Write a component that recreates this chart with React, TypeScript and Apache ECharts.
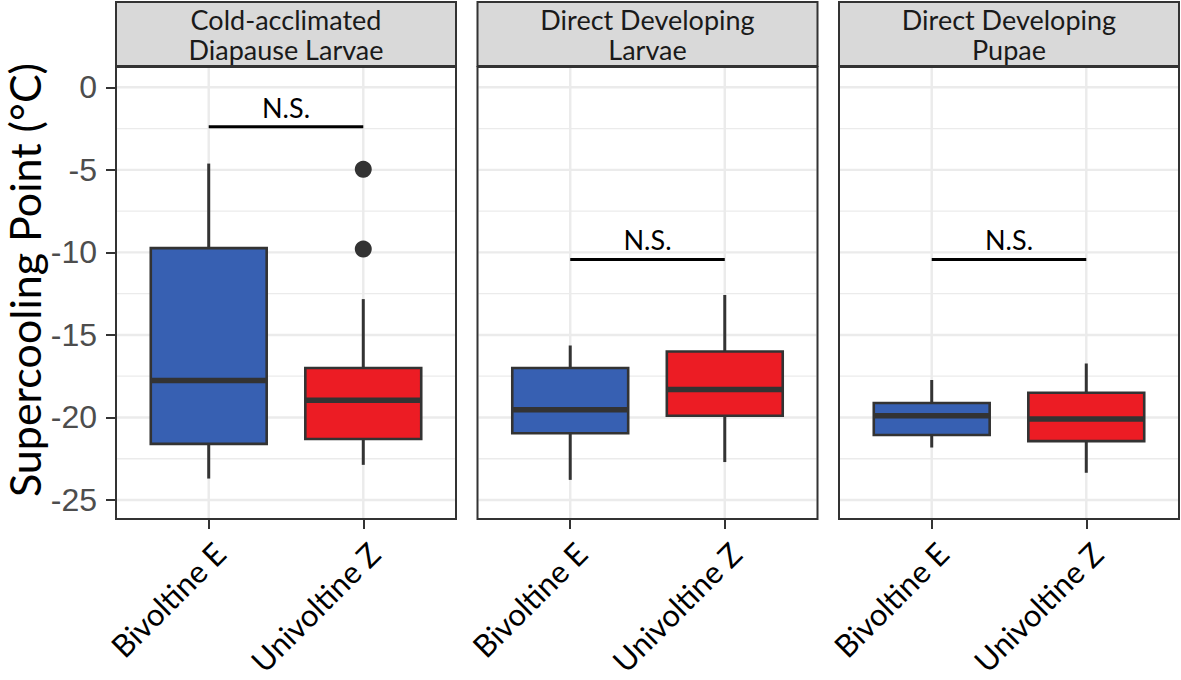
import React, { useEffect, useRef } from "react";
import * as echarts from "echarts";

// ---- data ----
const facetTitles = ["Cold-acclimated\nDiapause Larvae", "Direct Developing\nLarvae", "Direct Developing\nPupae"];
const groups = ["Bivoltine E", "Univoltine Z"];
const groupPos = [1, 2];
// [lower whisker, Q1, median, Q3, upper whisker]
const coldBivoltine = [-23.7, -21.6, -17.76, -9.74, -4.62];
const coldUnivoltine = [-22.87, -21.3, -18.96, -17.0, -12.83];
const larvaeBivoltine = [-23.78, -20.96, -19.53, -17.0, -15.64];
const larvaeUnivoltine = [-22.7, -19.9, -18.3, -16.0, -12.58];
const pupaeBivoltine = [-21.82, -21.06, -19.9, -19.12, -17.73];
const pupaeUnivoltine = [-23.35, -21.43, -20.1, -18.5, -16.73];
const coldOutliers = [[2, -4.97], [2, -9.8]];
const nsLevels = [-2.39, -10.43, -10.43];
const nsLabel = "N.S.";
const yMajor = [-25, -20, -15, -10, -5, 0];
const yMinor = [-22.5, -17.5, -12.5, -7.5, -2.5];
const yMin = -26.15;
const yMax = 1.23;
const xMin = 0.4;
const xMax = 2.6;
const groupColors = ["#3760b2", "#ec1c24"];

const panels = [
  { boxes: [coldBivoltine, coldUnivoltine], outliers: coldOutliers },
  { boxes: [larvaeBivoltine, larvaeUnivoltine], outliers: [] as number[][] },
  { boxes: [pupaeBivoltine, pupaeUnivoltine], outliers: [] as number[][] },
];

// ---- layout ----
const PANEL_LEFT = [116, 477.5, 839];
const PANEL_W = 340;
const PANEL_TOP = 67;
const PANEL_H = 452;
const STRIP_TOP = 2;
const STRIP_H = 64;
const DARK = "#333333";
const GRIDC = "#ebebeb";

function hLineSeries(i: number, values: number[], width: number) {
  return {
    type: "custom",
    xAxisIndex: i,
    yAxisIndex: i,
    silent: true,
    z: 1,
    clip: false,
    data: values.map((v) => [1.5, v]),
    renderItem: (params: any, api: any) => {
      const cs = params.coordSys;
      const y = api.coord([api.value(0), api.value(1)])[1];
      return {
        type: "line",
        shape: { x1: cs.x + 1, y1: y, x2: cs.x + cs.width - 1, y2: y },
        style: { stroke: GRIDC, lineWidth: width },
      };
    },
  };
}

function vLineSeries(i: number, values: number[], width: number) {
  return {
    type: "custom",
    xAxisIndex: i,
    yAxisIndex: i,
    silent: true,
    z: 1,
    clip: false,
    data: values.map((v) => [v, -12]),
    renderItem: (params: any, api: any) => {
      const cs = params.coordSys;
      const x = api.coord([api.value(0), api.value(1)])[0];
      return {
        type: "line",
        shape: { x1: x, y1: cs.y + 1, x2: x, y2: cs.y + cs.height - 1 },
        style: { stroke: GRIDC, lineWidth: width },
      };
    },
  };
}

export default function App() {
  const ref = useRef<HTMLDivElement>(null);
  useEffect(() => {
    if (!ref.current) return;
    const chart = echarts.init(ref.current, undefined, { renderer: "svg" });

    const grid: any[] = [];
    const xAxis: any[] = [];
    const yAxis: any[] = [];
    const series: any[] = [];
    const graphic: any[] = [];

    panels.forEach((p, i) => {
      grid.push({
        left: PANEL_LEFT[i],
        top: PANEL_TOP,
        width: PANEL_W,
        height: PANEL_H,
        show: false,
        containLabel: false,
        outerBoundsMode: "none",
      });
      xAxis.push({
        type: "value",
        gridIndex: i,
        position: "bottom",
        min: xMin,
        max: xMax,
        axisLine: { show: false, onZero: false },
        splitLine: { show: false },
        axisTick: { show: true, customValues: groupPos, length: 10, lineStyle: { color: DARK, width: 2 } },
        axisLabel: {
          show: true,
          customValues: groupPos,
          formatter: (v: number) => groups[Math.round(v) - 1] ?? "",
          rotate: 45,
          align: "right",
          verticalAlign: "top",
          margin: 18,
          color: "#000",
          fontFamily: "Lato",
          fontSize: 31,
        },
      });
      yAxis.push({
        type: "value",
        gridIndex: i,
        position: "left",
        min: yMin,
        max: yMax,
        axisLine: { show: false, onZero: false },
        splitLine: { show: false },
        axisTick: i === 0 ? { show: true, customValues: yMajor, length: 10, lineStyle: { color: DARK, width: 2 } } : { show: false },
        axisLabel: i === 0
          ? { show: true, customValues: yMajor, margin: 19, color: "#4d4d4d", fontFamily: "Liberation Sans", fontSize: 32 }
          : { show: false },
      });

      series.push(hLineSeries(i, yMinor, 1.3));
      series.push(hLineSeries(i, yMajor, 2.4));
      series.push(vLineSeries(i, groupPos, 2.4));

      series.push({
        type: "custom",
        xAxisIndex: i,
        yAxisIndex: i,
        z: 3,
        encode: { x: 0, y: [1, 2, 3, 4, 5] },
        data: p.boxes.map((b, g) => [groupPos[g], ...b, g]),
        renderItem: (params: any, api: any) => {
          const x = api.value(0);
          const lo = api.coord([x, api.value(1)]);
          const q1 = api.coord([x, api.value(2)]);
          const md = api.coord([x, api.value(3)]);
          const q3 = api.coord([x, api.value(4)]);
          const hi = api.coord([x, api.value(5)]);
          const color = groupColors[api.value(6)];
          const hw = api.size([0.75, 0])[0] / 2;
          const cx = lo[0];
          return {
            type: "group",
            children: [
              { type: "line", shape: { x1: cx, y1: q3[1], x2: cx, y2: hi[1] }, style: { stroke: DARK, lineWidth: 3 } },
              { type: "line", shape: { x1: cx, y1: q1[1], x2: cx, y2: lo[1] }, style: { stroke: DARK, lineWidth: 3 } },
              { type: "rect", shape: { x: cx - hw, y: q3[1], width: hw * 2, height: q1[1] - q3[1] }, style: { fill: color, stroke: DARK, lineWidth: 2.6 } },
              { type: "line", shape: { x1: cx - hw, y1: md[1], x2: cx + hw, y2: md[1] }, style: { stroke: DARK, lineWidth: 5.5 } },
            ],
          };
        },
      });

      if (p.outliers.length) {
        series.push({
          type: "scatter",
          xAxisIndex: i,
          yAxisIndex: i,
          z: 4,
          symbol: "circle",
          symbolSize: 17,
          itemStyle: { color: DARK, opacity: 1 },
          data: p.outliers,
        });
      }

      series.push({
        type: "custom",
        xAxisIndex: i,
        yAxisIndex: i,
        z: 4,
        clip: false,
        encode: { x: [0, 1], y: 2 },
        data: [[groupPos[0], groupPos[1], nsLevels[i]]],
        renderItem: (params: any, api: any) => {
          const a = api.coord([api.value(0), api.value(2)]);
          const b = api.coord([api.value(1), api.value(2)]);
          return {
            type: "group",
            children: [
              { type: "line", shape: { x1: a[0], y1: a[1], x2: b[0], y2: b[1] }, style: { stroke: "#000", lineWidth: 3.2 } },
              {
                type: "text",
                x: (a[0] + b[0]) / 2,
                y: a[1] - 6,
                style: { text: nsLabel, fill: "#000", fontFamily: "Lato", fontSize: 27, align: "center", verticalAlign: "bottom" },
              },
            ],
          };
        },
      });

      // strip
      graphic.push({
        type: "rect",
        shape: { x: PANEL_LEFT[i], y: STRIP_TOP, width: PANEL_W, height: STRIP_H },
        style: { fill: "#d9d9d9", stroke: DARK, lineWidth: 2 },
        z: 10,
      });
      graphic.push({
        type: "text",
        x: PANEL_LEFT[i] + PANEL_W / 2,
        y: STRIP_TOP + STRIP_H / 2,
        style: { text: facetTitles[i], fill: "#1a1a1a", fontFamily: "Lato", fontSize: 27, lineHeight: 30, align: "center", verticalAlign: "middle" },
        z: 11,
      });
      // panel border
      graphic.push({
        type: "rect",
        shape: { x: PANEL_LEFT[i], y: PANEL_TOP, width: PANEL_W, height: PANEL_H },
        style: { fill: "none", stroke: DARK, lineWidth: 2 },
        z: 10,
      });
    });

    graphic.push({
      type: "text",
      x: 24,
      y: 280,
      rotation: Math.PI / 2,
      style: { text: "Supercooling Point (°C)", fill: "#000", fontFamily: "Lato", fontSize: 43, align: "center", verticalAlign: "middle" },
      z: 11,
    });

    chart.setOption({
      animation: false,
      backgroundColor: "#ffffff",
      grid,
      xAxis,
      yAxis,
      series,
      graphic,
    });
    return () => chart.dispose();
  }, []);
  return <div ref={ref} style={{ position: "fixed", left: 0, top: 0, width: 1181, height: 680, background: "#fff" }} />;
}
